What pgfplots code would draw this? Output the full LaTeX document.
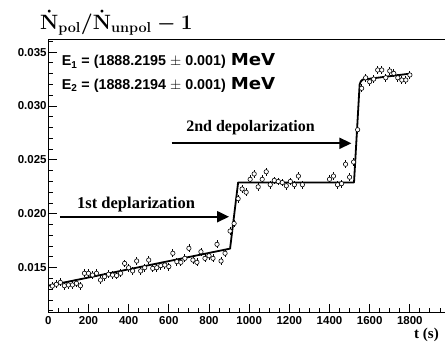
\documentclass[border=0pt]{standalone}
\usepackage{pgfplots}
\pgfplotsset{compat=1.18}
\usepackage[no-math]{fontspec}
\setmainfont{Liberation Sans}
\newfontfamily\timesfont{Liberation Serif}
\newfontfamily\mevfont[FakeStretch=1.1]{DejaVu Sans}
\usetikzlibrary{arrows.meta}
\begin{document}
\begin{tikzpicture}
\begin{axis}[name=ax, scale only axis, width=396.7pt, height=273.2pt,
  xmin=0, xmax=1975, ymin=0.010826, ymax=0.03617,
  clip=false,
  axis x line*=bottom, axis y line*=left,
  axis line style={-, line width=1.4pt},
  xtick={0,200,...,1800},
  minor xtick={50,100,...,1950},
  ytick={0.015,0.020,0.025,0.030,0.035},
  minor ytick={0.011,0.012,0.013,0.014,0.016,0.017,0.018,0.019,0.021,0.022,0.023,0.024,0.026,0.027,0.028,0.029,0.031,0.032,0.033,0.034,0.036},
  tick align=inside, major tick length=9pt, minor tick length=5pt,
  every tick/.style={line width=0.9pt, black},
  scaled y ticks=false,
  /pgf/number format/assume math mode=true,
  /pgf/number format/1000 sep={},
  tick label style={font=\fontsize{11.5}{13}\selectfont\bfseries},
  yticklabel style={/pgf/number format/.cd, fixed, fixed zerofill, precision=3, /tikz/.cd, inner xsep=1.5pt},
]
\addplot[only marks, mark=*, mark size=2.2pt, mark options={fill=white, draw=black, line width=0.6pt},
  error bars/.cd, y dir=both, y fixed=0.00036, error mark=none,
  error bar style={line width=0.8pt, black}]
table {
x y
20 0.01330
40 0.01346
60 0.01364
80 0.01333
100 0.01340
120 0.01340
140 0.01355
160 0.01333
180 0.01448
200 0.01448
220 0.01432
240 0.01448
260 0.01386
280 0.01417
300 0.01439
320 0.01432
340 0.01427
360 0.01448
380 0.01540
400 0.01500
420 0.01470
440 0.01562
460 0.01470
480 0.01500
500 0.01571
520 0.01494
540 0.01500
560 0.01519
580 0.01525
600 0.01510
620 0.01634
640 0.01556
660 0.01550
680 0.01587
700 0.01680
720 0.01571
740 0.01550
760 0.01648
780 0.01587
800 0.01611
820 0.01587
840 0.01717
860 0.01562
880 0.01634
905 0.01840
925 0.01910
945 0.02140
965 0.02230
985 0.02200
1005 0.02320
1025 0.02370
1045 0.02250
1065 0.02320
1085 0.02390
1105 0.02270
1125 0.02310
1145 0.02300
1165 0.02290
1185 0.02260
1205 0.02300
1225 0.02270
1245 0.02350
1265 0.02270
1400 0.02320
1420 0.02350
1440 0.02270
1460 0.02280
1480 0.02460
1500 0.02340
1520 0.02480
1540 0.02780
1560 0.03164
1580 0.03262
1600 0.03225
1620 0.03250
1640 0.03334
1660 0.03334
1680 0.03262
1700 0.03325
1720 0.03303
1740 0.03262
1760 0.03241
1780 0.03241
1800 0.03288
};
\addplot[black, line width=1.8pt, line join=round] coordinates {
(0,0.01333) (905,0.01677) (945,0.0229) (1522,0.0229) (1550,0.0320) (1556,0.03228) (1565,0.03245) (1800,0.03300)
};
\draw[line width=1.4pt] (rel axis cs:0,1) -- (rel axis cs:1,1);
\draw[line width=2pt, -{Triangle[length=12pt,width=11pt]}] (axis cs:58,0.01973) -- (axis cs:900,0.01973);
\draw[line width=2pt, -{Triangle[length=12pt,width=11pt]}] (axis cs:614,0.02654) -- (axis cs:1509,0.02654);
\node[anchor=base west, inner sep=0pt] at (axis cs:143,0.02051) {\timesfont\bfseries\fontsize{16.5}{18}\selectfont 1st deplarization};
\node[anchor=base west, inner sep=0pt] at (axis cs:686,0.02762) {\timesfont\bfseries\fontsize{16}{18}\selectfont 2nd depolarization};
\node[anchor=base west, inner sep=0pt, xshift=13.4pt, yshift=-26.5pt] at (rel axis cs:0,1) {\fontsize{14.3}{16}\selectfont\bfseries E\textsubscript{1} = (1888.2195 $\pm$ 0.001)\hspace{5pt}{\mevfont\bfseries\fontsize{16.5}{18}\selectfont MeV}};
\node[anchor=base west, inner sep=0pt, xshift=13.4pt, yshift=-49.8pt] at (rel axis cs:0,1) {\fontsize{14.3}{16}\selectfont\bfseries E\textsubscript{2} = (1888.2194 $\pm$ 0.001)\hspace{5pt}{\mevfont\bfseries\fontsize{16.5}{18}\selectfont MeV}};
\node[anchor=base west, inner sep=0pt, xshift=-8.3pt, yshift=10pt] at (rel axis cs:0,1) {{\fontsize{22.5}{26}\selectfont\boldmath$\dot{\mathbf{N}}_{\mathbf{pol}}/\dot{\mathbf{N}}_{\mathbf{unpol}}-\mathbf{1}$}};
\node[rotate=90, inner sep=0pt, xshift=-35.6pt, yshift=127.7pt] at (rel axis cs:0,0) {\fontsize{11.5}{13}\selectfont Δ};
\node[anchor=base east, inner sep=0pt, xshift=390.7pt, yshift=-26pt] at (rel axis cs:0,0) {\timesfont\bfseries\fontsize{15}{17}\selectfont t (s)};
\end{axis}
\pgfresetboundingbox
\path ([xshift=-48.3pt,yshift=-30.3pt]ax.south west) rectangle ([yshift=39.5pt]ax.north east);
\end{tikzpicture}
\end{document}
